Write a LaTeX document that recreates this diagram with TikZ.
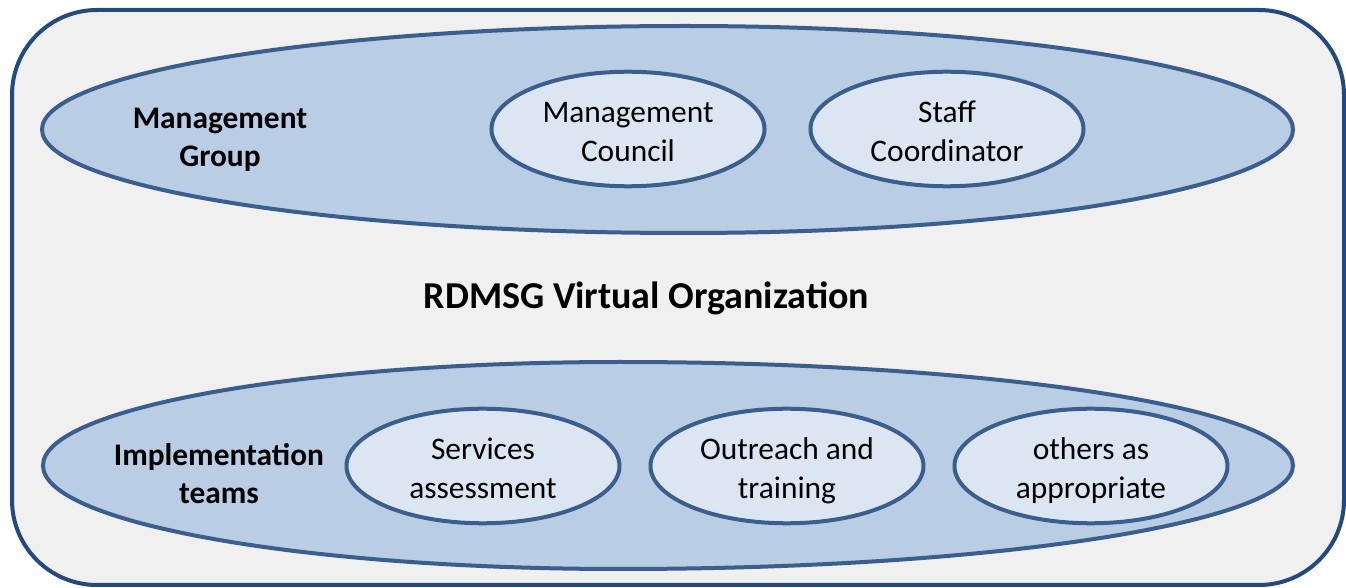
\documentclass[tikz,border=0pt]{standalone}
\usepackage{fontspec}
\setmainfont{Carlito}
\usetikzlibrary{shapes.geometric}
\definecolor{frameblue}{HTML}{24497D}
\definecolor{lineblue}{HTML}{3B5E8C}
\definecolor{groupfill}{HTML}{B9CDE5}
\definecolor{memberfill}{HTML}{DCE6F2}
\definecolor{backgray}{HTML}{F0F0F0}
\newcommand\twolines[2]{\rule{0pt}{17pt}#1\\\rule[-4pt]{0pt}{4pt}#2}
\tikzset{
  x=0.5pt,
  y=-0.5pt,
}
\tikzstyle{group}=[draw=lineblue,fill=groupfill,line width=2pt]
\tikzstyle{member}=[ellipse,draw=lineblue,fill=memberfill,line width=2pt,
  minimum width=136.5pt,minimum height=56pt,inner sep=0pt,align=center,
  font=\fontsize{15.7}{19.5}\selectfont]
\tikzstyle{grouplabel}=[align=center,font=\fontsize{15.7}{19}\selectfont\bfseries]

\begin{document}
\begin{tikzpicture}
      \useasboundingbox (0,0) rectangle (1346,588);
      % frame
      \draw[frameblue,fill=backgray,line width=2pt,rounded corners=42.5pt] (12,10) rectangle (1344,585);
      % the two groups
      \draw[group] (42,129.5) .. controls (42,72.3) and (330,26) .. (685,26)
        .. controls (1021,26) and (1293,72.3) .. (1293,129.5)
        .. controls (1293,186.7) and (1021,233) .. (685,233)
        .. controls (330,233) and (42,186.7) .. (42,129.5) -- cycle;
      \draw[group] (43,465.5) .. controls (43,408.3) and (301,362) .. (620,362)
        .. controls (992,362) and (1293,408.3) .. (1293,465.5)
        .. controls (1293,522.7) and (992,569) .. (620,569)
        .. controls (301,569) and (43,522.7) .. (43,465.5) -- cycle;
      \node[grouplabel] (mgmt) at (220,140) {Management\\Group};
      \node[grouplabel] (impl) at (219,474) {Implementation\\teams};
      \node[member] (council) at (628,129) {\twolines{Management}{Council}};
      \node[member] (staff) at (947,129) {\twolines{Staff}{Coordinator}};
      \node[member] (services) at (483,466) {\twolines{Services}{assessment}};
      \node[member] (outreach) at (787,466) {\twolines{Outreach and}{training}};
      \node[member] (others) at (1091,466) {\twolines{others as}{appropriate}};
      \node[anchor=base,font=\fontsize{19}{23}\selectfont\bfseries] (title) at (646.5,309) {RDMSG Virtual Organization};
    \end{tikzpicture}
\end{document}
